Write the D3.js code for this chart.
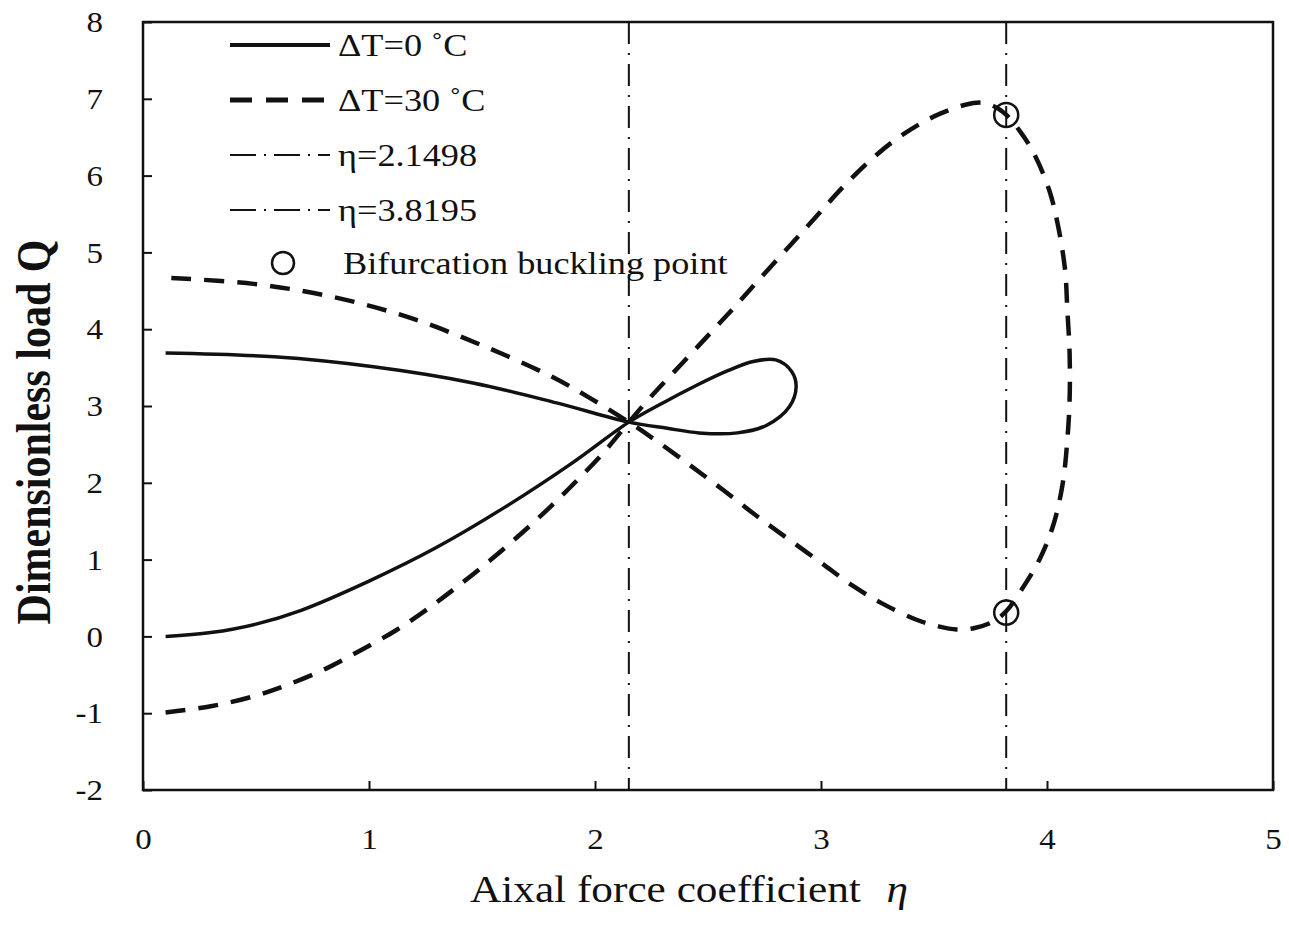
<!DOCTYPE html>
<html>
<head>
<meta charset="utf-8">
<script src="https://cdn.jsdelivr.net/npm/d3@7"></script>
<style>
  body { margin: 0; background: #fff; }
  svg text { font-family: "Liberation Serif", "Times New Roman", serif; fill: #111; }
</style>
</head>
<body>
<div id="chart"></div>
<script>
// data
var solidEta = [0.10, 0.30, 0.50, 0.70, 1.00, 1.30, 1.60, 1.90, 2.15, 2.30, 2.45, 2.58, 2.70, 2.80, 2.87, 2.89, 2.86, 2.76, 2.63, 2.46, 2.32, 2.15, 1.83, 1.46, 1.02, 0.58, 0.10];
var solidQ   = [0.00, 0.05, 0.16, 0.34, 0.72, 1.16, 1.68, 2.26, 2.79, 3.04, 3.27, 3.45, 3.58, 3.60, 3.45, 3.25, 2.99, 2.75, 2.65, 2.65, 2.71, 2.79, 3.04, 3.30, 3.51, 3.64, 3.69];

var dashEta = [0.10, 0.30, 0.49, 0.64, 0.81, 0.97, 1.12, 1.26, 1.40, 1.54, 1.67, 1.80, 1.92, 2.04, 2.15, 2.25, 2.39, 2.52, 2.63, 2.73, 2.86, 2.98, 3.10, 3.23, 3.36, 3.53, 3.69, 3.76, 3.82, 3.88, 3.94, 4.01, 4.05, 4.08, 4.09, 4.10, 4.10, 4.09, 4.07, 4.03, 3.97, 3.89, 3.82, 3.76, 3.68, 3.60, 3.52, 3.42, 3.27, 3.14, 3.00, 2.85, 2.71, 2.57, 2.42, 2.27, 2.15, 1.98, 1.81, 1.50, 1.18, 0.84, 0.49, 0.10];
var dashQ   = [-0.99, -0.91, -0.78, -0.63, -0.42, -0.17, 0.08, 0.36, 0.67, 1.00, 1.33, 1.68, 2.03, 2.40, 2.79, 3.13, 3.57, 3.98, 4.33, 4.66, 5.08, 5.47, 5.86, 6.23, 6.53, 6.81, 6.95, 6.91, 6.79, 6.58, 6.30, 5.81, 5.33, 4.77, 4.25, 3.69, 3.08, 2.56, 2.00, 1.47, 1.02, 0.62, 0.33, 0.19, 0.11, 0.09, 0.13, 0.22, 0.43, 0.66, 0.96, 1.28, 1.58, 1.90, 2.23, 2.55, 2.79, 3.10, 3.38, 3.79, 4.15, 4.42, 4.59, 4.67];

var critEta = [2.1498, 3.8195];
var bifEta = [3.8195, 3.8195];
var bifQ = [6.79, 0.31];

var xTicks = [0, 1, 2, 3, 4, 5];
var yTicks = [-2, -1, 0, 1, 2, 3, 4, 5, 6, 7, 8];

var legendLabels = ["\u0394T=0 \u02DAC", "\u0394T=30 \u02DAC", "\u03B7=2.1498", "\u03B7=3.8195", "Bifurcation buckling point"];

var W = 1289, H = 926;
var margin = {left: 143, right: 16, top: 22, bottom: 136};
var stretch = 1.17; // the original picture is a bit wide

var svg = d3.select("#chart").append("svg")
    .attr("width", W)
    .attr("height", H);

var x = d3.scaleLinear().domain([0, 5]).range([margin.left, W - margin.right]);
var y = d3.scaleLinear().domain([-2, 8]).range([H - margin.bottom, margin.top]);

// axes
var xAxis = svg.append("g")
    .attr("transform", "translate(0," + y(-2) + ")")
    .call(d3.axisBottom(x).tickValues(xTicks).tickSize(-9).tickPadding(38).tickFormat(function(d) { return String(d); }));
var yAxis = svg.append("g")
    .attr("transform", "translate(" + x(0) + ",0)")
    .call(d3.axisLeft(y).tickValues(yTicks).tickSize(-9).tickPadding(40).tickFormat(function(d) { return String(d); }));

[xAxis, yAxis].forEach(function(g) {
    g.select(".domain").remove();
    g.selectAll(".tick line").attr("stroke", "#111").attr("stroke-width", 2);
    g.selectAll(".tick text").attr("font-size", 30).attr("font-family", "Liberation Serif").attr("fill", "#111");
});
// widen tick labels a little like the source
xAxis.selectAll(".tick text").each(function() {
    var t = d3.select(this);
    t.attr("transform", "translate(0," + t.attr("y") + ") scale(1.1,1)").attr("y", 0);
});
yAxis.selectAll(".tick text").each(function() {
    var t = d3.select(this);
    t.attr("transform", "translate(" + t.attr("x") + ",0) scale(1.1,1)").attr("x", 0);
});

// frame
svg.append("rect")
    .attr("x", x(0)).attr("y", y(8))
    .attr("width", x(5) - x(0)).attr("height", y(-2) - y(8))
    .attr("fill", "none").attr("stroke", "#111").attr("stroke-width", 2.5);

// vertical dash-dot lines
svg.selectAll(".crit")
    .data(critEta)
    .enter().append("line")
    .attr("x1", function(d) { return x(d); })
    .attr("x2", function(d) { return x(d); })
    .attr("y1", y(8)).attr("y2", y(-2))
    .attr("stroke", "#111").attr("stroke-width", 2)
    .attr("stroke-dasharray", "22,9,2,9");

var line = d3.line()
    .x(function(d) { return x(d[0]); })
    .y(function(d) { return y(d[1]); })
    .curve(d3.curveCatmullRom.alpha(0.5));

svg.append("path")
    .datum(d3.zip(solidEta, solidQ))
    .attr("d", line)
    .attr("fill", "none").attr("stroke", "#111").attr("stroke-width", 3.5);

svg.append("path")
    .datum(d3.zip(dashEta, dashQ))
    .attr("d", line)
    .attr("fill", "none").attr("stroke", "#111").attr("stroke-width", 4.5)
    .attr("stroke-dasharray", "20,13");

svg.selectAll(".bif")
    .data(d3.zip(bifEta, bifQ))
    .enter().append("circle")
    .attr("cx", function(d) { return x(d[0]); })
    .attr("cy", function(d) { return y(d[1]); })
    .attr("r", 12)
    .attr("fill", "none").attr("stroke", "#111").attr("stroke-width", 2.5);

// legend
var legY = [45, 100, 155, 210, 263];
var leg = svg.append("g");
var styles = [
    {w: 4, dash: null},
    {w: 5, dash: "22,14"},
    {w: 2, dash: "26,8,2,8"},
    {w: 2, dash: "26,8,2,8"}
];
styles.forEach(function(s, i) {
    var l = leg.append("line")
        .attr("x1", 230).attr("x2", 330)
        .attr("y1", legY[i]).attr("y2", legY[i])
        .attr("stroke", "#111").attr("stroke-width", s.w);
    if (s.dash) l.attr("stroke-dasharray", s.dash);
});
leg.append("circle")
    .attr("cx", 283).attr("cy", legY[4]).attr("r", 11)
    .attr("fill", "none").attr("stroke", "#111").attr("stroke-width", 2.5);
leg.selectAll(".lt")
    .data(legendLabels)
    .enter().append("text")
    .attr("transform", function(d, i) {
        return "translate(" + (i == 4 ? 343 : 338) + "," + (legY[i] + 11) + ") scale(" + stretch + ",1)";
    })
    .attr("font-size", 31)
    .text(function(d) { return d; });

// axis titles
var xt = svg.append("text")
    .attr("transform", "translate(470,902) scale(" + stretch + ",1)")
    .attr("font-size", 37);
xt.append("tspan").text("Aixal force coefficient");
xt.append("tspan").attr("dx", 22).attr("font-style", "italic").text("\u03B7");

svg.append("text")
    .attr("transform", "translate(50,432) rotate(-90) scale(1," + stretch + ")")
    .attr("text-anchor", "middle")
    .attr("font-size", 42)
    .attr("font-weight", "bold")
    .text("Dimensionless load Q");
</script>
</body>
</html>
